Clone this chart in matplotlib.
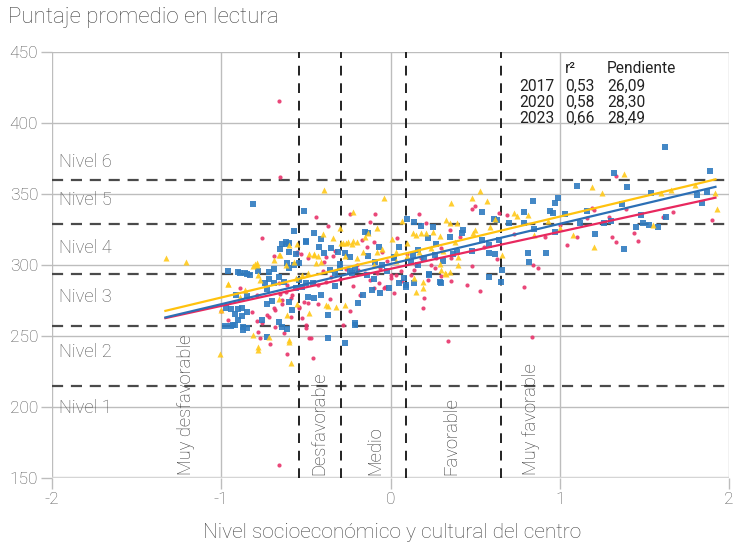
import matplotlib
matplotlib.use("Agg")
import matplotlib.pyplot as plt
import numpy as np

plt.rcParams['font.family'] = ['Roboto', 'DejaVu Sans']

# ---------------- data ----------------
years = ["2017", "2020", "2023"]
r2 = ["0,53", "0,58", "0,66"]
slope_txt = ["26,09", "28,30", "28,49"]
slopes = [26.09, 28.30, 28.49]
intercepts = [297.3, 300.7, 305.6]
line_x = [-1.33, 1.92]

colors = ["#E8336B", "#2F7BC0", "#FFC91A"]
line_colors = ["#E8285E", "#2C6FB5", "#FFC20E"]

x2017 = [-0.66, -0.65, -0.76, -0.66, 0.34, 0.835, -0.46, -0.47, -0.50, -0.28, 0.19, -0.24, -0.49, -0.43,
         -0.10, -0.04, 0.02, 0.26, 0.22, 0.14, 0.00, -0.08, -0.44, -0.24, -0.09, -0.12, 0.17, 0.21, 0.35,
         -0.37, -0.10, 0.04, -0.17, -0.14, -0.33, -0.38, -0.55, -0.53, -0.69, 0.48, 0.50, 0.64, 0.69, 1.19,
         0.41, 1.10, 1.04, 0.91, 0.55, 1.33, 1.90, 1.39, 1.67, 1.29, 1.61, 1.44, 1.46, 1.31, 1.33, 1.20,
         -0.89, -0.79, -0.96, -0.79, -0.76, -0.82, -0.73, -0.69, -0.64, -0.65, -0.62, -0.59, -0.59, -0.68,
         -0.78, -0.52, -0.50, -0.54, -0.51, -0.58, -0.71, -0.61, -1.00, 0.63, 0.84, 0.87, 0.48, 0.53, 0.79,
         0.45, 0.36, 0.20, 0.07, 0.27, 0.36, 0.15, -0.02, -0.30, -0.22, -0.40, -0.45, -0.20, 1.00, 0.73,
         1.16, -0.36, -0.18, 0.10, 0.30, -0.05, -0.26,
         -0.55, -0.49, -0.34, -0.39, -0.84, -0.66, -0.61, -0.43, -0.38, -0.35, -0.19, -0.15, -0.12, -0.07,
         -0.03, 0.00, 0.03, -0.64, -0.68, -0.72, -0.54, -0.48, -0.63, -0.77, 0.06, 0.12, 0.24, 0.30, 0.18, -0.06]
y2017 = [415.5, 361.8, 318.8, 159.0, 246.5, 249.5, 234.3, 248.4, 258.0, 258.0, 269.5, 267.6, 273.0, 272.3,
         284.0, 283.6, 280.0, 297.6, 289.4, 296.5, 293.0, 294.2, 334.0, 335.7, 335.7, 330.5, 335.7, 329.4, 324.6,
         327.5, 316.4, 319.0, 317.6, 313.0, 310.0, 305.4, 309.4, 307.7, 306.0, 339.2, 341.6, 336.8, 335.2, 339.9,
         319.5, 319.5, 314.1, 319.5, 312.5, 362.7, 331.7, 339.2, 337.6, 333.6, 333.6, 322.7, 317.1, 319.9, 316.4, 338.5,
         283.6, 278.9, 261.3, 260.6, 259.0, 267.1, 264.8, 269.5, 272.3, 279.4, 281.2, 276.6, 263.6, 256.5,
         253.0, 262.5, 255.9, 269.5, 274.2, 278.9, 244.2, 237.1, 267.8, 304.0, 300.0, 297.7, 299.3, 282.0, 284.7,
         285.9, 289.0, 277.0, 289.0, 305.0, 305.0, 300.0, 303.0, 290.0, 285.0, 296.0, 288.0, 300.0, 328.0, 322.0,
         333.0, 276.0, 279.0, 308.0, 312.0, 309.0, 297.0,
         308.7, 304.7, 306.3, 302.3, 293.0, 287.1, 285.9, 285.9, 288.2, 291.8, 296.5, 294.2, 289.4, 287.1,
         284.7, 290.6, 293.0, 275.4, 268.3, 263.6, 270.7, 248.4, 252.0, 248.4, 296.0, 293.0, 300.0, 292.0, 305.0, 298.0]

x2020 = [-0.81, -0.51, -0.57, -0.50, -0.62, -0.64, -0.65, 0.10, 0.14, -0.45, -0.15, 0.18, 0.25, 0.22, 0.35,
         -0.41, 0.05, 0.16, -0.07, -0.35, -0.39, -0.13, -0.37, -0.27, -0.21, -0.37, -0.19, -0.49, -0.45, -0.41,
         -0.16, -0.01, 0.05, 0.09, 0.14, 0.23, 0.29, 0.08, -0.14, 1.10, 0.84, 0.97, 0.99, 0.54, 0.79, 0.94,
         0.96, 1.03, 0.43, 0.42, 0.70, 0.79, 0.85, 0.97, 1.12, 0.54, 0.58, 0.64, 0.81, 0.92, 0.62, 1.62,
         1.89, 1.32, 1.40, 1.54, 1.81, 1.84, 1.87, 1.37, 1.16, 1.48, 1.63, 1.26, 1.30, 1.49, 1.53, 1.58, 1.45,
         1.21, 1.38, -0.90, -0.85, -0.83, -0.78, -0.72, -0.69, -0.66, -0.63, -0.74, -0.91, -0.85, -0.97, -0.94,
         -0.90, -0.88, -0.92, -0.88, -0.85, -0.98, -0.94, -0.92, -0.87, -0.85, -0.90, -0.73, -0.70, -0.64, -0.61,
         -0.66, -0.60, -0.58, -0.56, -0.52, -0.50, -0.60, -0.57, -0.54, -0.96, 0.61, 0.63, 0.58, 0.66, 0.65,
         0.82, 0.58, 0.30, 0.23, 0.09, 0.16, 0.13, 0.37, 0.39, 0.48, 0.27, -0.30, -0.24, -0.05, 0.02, -0.10, -0.33,
         -0.13, -0.62, -0.60, -0.50, -0.42, -0.31, -0.27, -0.24, -0.60, -0.56, -0.61, -0.89, -0.86, -0.72, -0.69,
         -0.73, -0.54, -0.46, -0.36, -0.33, -0.30, -0.23, -0.21, -0.09, 0.02, -0.11, -0.06, -0.76, -0.87, -0.93,
         -0.21, -0.73, 0.12, 0.20, 0.26, 0.31, -0.02]
y2020 = [343.0, 338.0, 324.0, 317.0, 316.0, 315.0, 311.0, 332.4, 330.5, 322.3, 323.5, 327.5, 326.5, 318.8, 319.5,
         318.0, 312.5, 310.6, 312.5, 311.8, 308.2, 306.0, 248.4, 245.0, 257.7, 264.8, 273.5, 277.7, 277.0, 278.9,
         278.9, 283.6, 287.0, 284.6, 287.0, 293.4, 287.8, 291.0, 293.0, 355.6, 345.3, 343.9, 347.0, 337.6, 337.6, 338.3,
         336.8, 335.9, 324.6, 322.3, 329.8, 329.4, 325.1, 323.5, 329.4, 317.6, 314.1, 317.6, 308.7, 308.7, 307.7, 382.9,
         366.2, 365.0, 354.7, 350.5, 349.3, 343.9, 351.7, 343.0, 338.3, 335.2, 333.6, 329.8, 331.2, 329.4, 328.2, 326.5, 326.5,
         321.8, 311.0, 294.9, 293.5, 293.0, 295.8, 294.9, 297.2, 291.8, 288.3, 287.0, 278.9, 278.5, 269.5, 269.0,
         269.0, 270.0, 265.3, 264.3, 266.7, 257.3, 257.3, 257.7, 254.2, 255.9, 261.0, 272.3, 274.6, 256.5, 254.9,
         260.1, 274.0, 268.0, 283.6, 284.7, 287.0, 297.7, 300.0, 301.2, 296.0, 332.4, 331.7, 308.2, 296.5, 288.3,
         302.3, 291.8, 287.6, 293.0, 286.0, 300.0, 307.0, 308.0, 309.5, 310.0, 315.0, 301.0, 296.0, 300.0, 305.0, 290.0, 285.0,
         322.8, 314.8, 315.7, 316.4, 312.5, 309.4, 308.2, 305.4, 309.4, 307.7, 301.2, 294.6, 294.2, 290.0, 287.1,
         282.9, 289.4, 287.1, 296.5, 294.2, 297.7, 294.2, 297.7, 302.3, 305.8, 282.4, 280.0, 261.3, 256.5, 257.7,
         259.0, 249.5, 302.0, 305.0, 307.0, 303.0, 296.0]

x2023 = [-1.325, -1.21, -0.96, -1.00, -0.80, -0.79, -0.78, -0.81, -0.72, -0.60, -0.78, -1.01, -0.59, -0.61,
         -0.60, -0.55, -0.65, -0.39, -0.04, -0.22, 0.07, 0.33, 0.36, -0.13, 0.01, 0.13, 0.15, 0.18, 0.21, 0.29,
         -0.34, -0.28, -0.25, -0.22, 0.10, -0.45, -0.43, -0.27, -0.48, -0.37, -0.32, -0.27, 0.15, 0.19, 0.30, 0.33,
         1.19, 0.53, 0.48, 0.57, 0.73, 0.75, 0.81, 0.59, 0.62, 0.50, 0.49, 1.08, 1.20, 0.85, 0.66, 0.40, 1.38,
         1.60, 1.92, 1.93, 1.55, 0.39, 0.35, -0.66, -0.55, -0.56, -0.52, -0.49, -0.89, -0.86, 0.32, 0.35, 0.19,
         0.14, 0.29, 0.40, -0.57, -0.62, -0.05, 0.03, -0.16, -0.10, -0.20, -0.40, -0.30, 1.66, 1.80, 1.25, 0.93,
         1.00, -0.08, 0.25,
         -0.15, -0.29, -0.26, -0.23, -0.20, -0.45, -0.41, -0.44, -0.66, -0.69, -0.79, -0.81, -0.96, -0.77,
         -0.38, -0.48, -0.60, -0.78, 0.03, 0.10, 0.17, 0.24, 0.31, 0.38, -0.08]
y2023 = [304.7, 301.9, 286.4, 268.3, 301.0, 300.0, 293.0, 250.7, 249.5, 246.0, 240.0, 237.0, 230.7, 264.8,
         314.0, 315.0, 307.0, 352.8, 347.4, 337.5, 331.0, 332.0, 344.0, 322.8, 318.0, 322.3, 321.0, 322.3, 322.8, 320.4,
         318.8, 315.3, 316.4, 317.0, 315.3, 308.0, 306.0, 306.0, 307.5, 271.3, 270.7, 271.8, 281.2, 283.6, 296.5, 294.0,
         355.2, 352.3, 347.0, 345.3, 336.4, 334.5, 335.2, 326.5, 332.2, 324.6, 322.3, 321.1, 312.9, 321.1, 307.0, 305.8, 364.1,
         350.9, 350.9, 339.2, 328.2, 329.8, 329.4, 276.1, 272.3, 290.7, 293.0, 294.2, 277.7, 282.4, 294.2, 295.3, 288.0,
         291.0, 301.0, 300.0, 302.0, 300.0, 311.0, 309.0, 309.0, 300.0, 305.0, 322.0, 326.0, 353.0, 356.0, 351.0, 331.0,
         326.0, 326.0, 323.0,
         319.5, 315.3, 315.7, 314.8, 316.4, 307.0, 302.3, 301.2, 307.0, 303.5, 301.2, 299.3, 286.6, 289.4,
         271.8, 266.0, 247.2, 242.5, 303.0, 306.0, 309.0, 312.0, 310.0, 316.0, 309.0]

xs = [x2017, x2020, x2023]
ys = [y2017, y2020, y2023]
markers = ["o", "s", "^"]
msizes = [9, 13, 19]

level_cuts = [215, 257, 294, 329, 360]
level_names = ["Nivel 1", "Nivel 2", "Nivel 3", "Nivel 4", "Nivel 5", "Nivel 6"]
level_label_y = [199, 238.7, 277.5, 312, 345.8, 372.5]

cat_cuts = [-0.54, -0.29, 0.09, 0.655]
cat_names = ["Muy desfavorable", "Desfavorable", "Medio", "Favorable", "Muy favorable"]
cat_label_x = [-1.21, -0.42, -0.09, 0.36, 0.83]

xticks = [-2, -1, 0, 1, 2]
yticks = [150, 200, 250, 300, 350, 400, 450]

# ---------------- figure ----------------
fig = plt.figure(figsize=(7.34, 5.47), dpi=100)
ax = fig.add_axes([52/734, 1 - 478/547, 677/734, 426/547])
ax.set_xlim(-2, 2)
ax.set_ylim(150, 450)

for s in ax.spines.values():
    s.set_visible(False)

grid_c = "#BDBDBD"
for xt in xticks:
    ax.axvline(xt, color=grid_c, lw=1.0, zorder=0)
for yt in yticks[1:]:
    ax.axhline(yt, color=grid_c, lw=1.0, zorder=0)
ax.axhline(150, color="#D5D5D5", lw=2.5, zorder=0)

ax.set_xticks(xticks)
ax.set_xticklabels([str(v) for v in xticks])
ax.set_yticks(yticks)
ax.set_yticklabels([str(v) for v in yticks])
ax.tick_params(axis="both", colors=grid_c, length=8, width=1.0, labelcolor="#555555",
               labelsize=12.5, pad=2)
for lab in ax.get_xticklabels() + ax.get_yticklabels():
    lab.set_fontweight("light")

# dashed level and category lines
for lc in level_cuts:
    ax.axhline(lc, color="#4A4A4A", lw=1.6, ls=(0, (5, 3.5)), zorder=1)
for cc in cat_cuts:
    ax.axvline(cc, color="#222222", lw=1.4, ls=(0, (5, 4)), zorder=1)

# scatter
for i in range(3):
    ax.scatter(xs[i], ys[i], s=msizes[i], marker=markers[i], color=colors[i],
               linewidths=0, alpha=0.9, zorder=3)

# regression lines
lx = np.array(line_x)
for i in range(3):
    ax.plot(lx, intercepts[i] + slopes[i] * lx, color=line_colors[i], lw=1.6, zorder=4)

# level labels
for name, yv in zip(level_names, level_label_y):
    ax.text(-1.96, yv, name, fontsize=13.2, color="#555555", va="center", ha="left",
            fontweight="light", zorder=5)

# category labels
for name, xv in zip(cat_names, cat_label_x):
    ax.text(xv, 152, name, rotation=90, fontsize=13.2, color="#333333", va="bottom",
            ha="center", fontweight="light", zorder=5)

# table
fs_t = 11.2
ax.text(1.03, 438.5, "r²", fontsize=fs_t, color="#222222", ha="left", va="center")
ax.text(1.28, 438.5, "Pendiente", fontsize=fs_t, color="#222222", ha="left", va="center")
row_y = [426, 414.7, 403.4]
for yr, r, sl, yv in zip(years, r2, slope_txt, row_y):
    ax.text(0.97, yv, yr, fontsize=fs_t, color="#222222", ha="right", va="center")
    ax.text(1.03, yv, r, fontsize=fs_t, color="#222222", ha="left", va="center")
    ax.text(1.28, yv, sl, fontsize=fs_t, color="#222222", ha="left", va="center")

fig.text(8/734, 1 - 18/547, "Puntaje promedio en lectura", fontsize=16, color="#444444",
         ha="left", va="center", fontweight="light")
fig.text(392/734, 1 - 533/547, "Nivel socioeconómico y cultural del centro", fontsize=15,
         color="#444444", ha="center", va="center", fontweight="light")

fig.savefig("out.png", dpi=100)
